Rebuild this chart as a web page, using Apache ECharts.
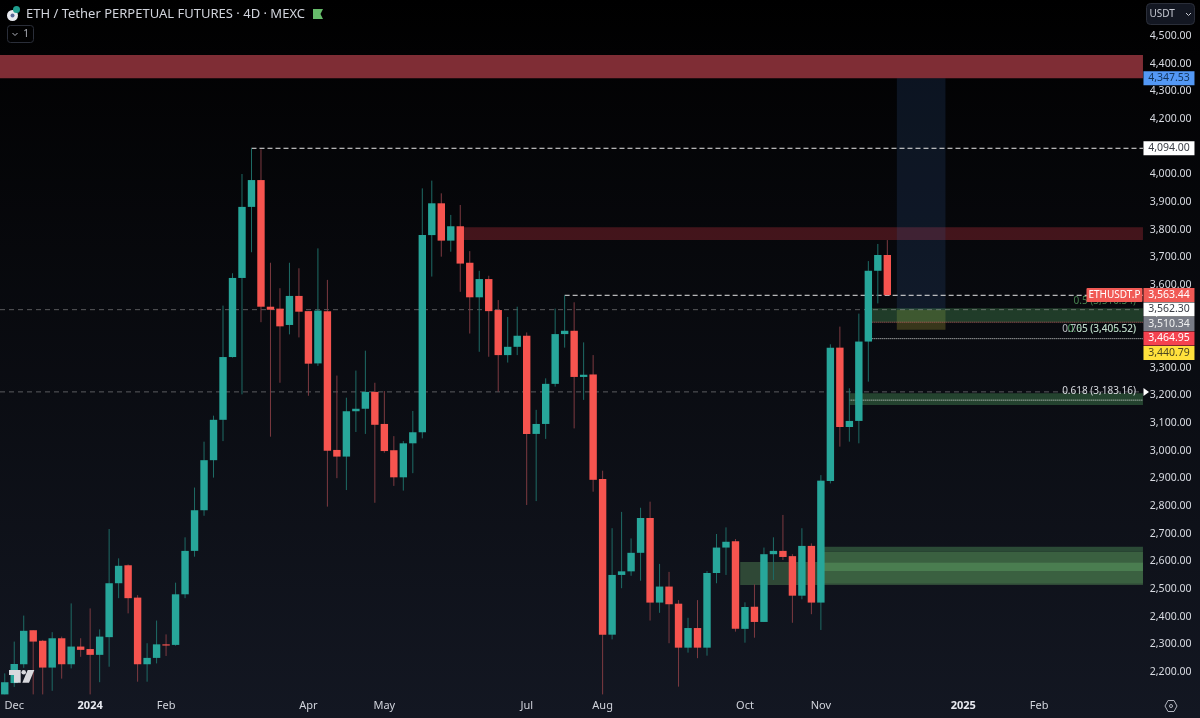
<!DOCTYPE html>
<html>
<head>
<meta charset="utf-8">
<title>ETH / Tether PERPETUAL FUTURES</title>
<style>
    html, body { margin: 0; padding: 0; background: #000; }
    #chart { width: 1200px; height: 718px; }
</style>
<script src="https://cdn.jsdelivr.net/npm/echarts@6/dist/echarts.min.js"></script>
</head>
<body>
<div id="chart"></div>
<script>
/**
 ******************************** data ********************************
 */
var opens = [
    2119,2160,2228,2351,2313,2216,2322,2228,2292,2283,
    2262,2326,2521,2586,2469,2228,2251,2300,2298,2481,
    2638,2785,2966,3112,3339,3625,3882,3979,3521,3514,
    3455,3560,3505,3316,3505,3003,2979,3143,3152,3213,
    3097,3002,2904,3027,3067,3780,3895,3760,3812,3680,
    3555,3621,3509,3346,3376,3416,3061,3097,3242,3422,
    3434,3267,3276,2898,2335,2551,2564,2631,2757,2451,
    2509,2447,2288,2359,2288,2558,2650,2673,2356,2436,
    2381,2626,2638,2619,2476,2656,2451,2891,3373,3086,
    3108,3395,3651,3708
];
var closes = [
    2163,2229,2349,2310,2216,2322,2228,2292,2280,2262,
    2328,2521,2584,2467,2228,2251,2300,2298,2481,2638,
    2785,2966,3112,3339,3625,3882,3979,3521,3510,3450,
    3560,3503,3315,3507,3000,2979,3143,3152,3213,3094,
    2999,2904,3027,3067,3780,3895,3760,3812,3677,3555,
    3621,3505,3346,3376,3416,3061,3097,3242,3422,3434,
    3267,3275,2895,2335,2551,2564,2631,2757,2451,2509,
    2445,2288,2359,2288,2558,2650,2671,2356,2435,2381,
    2626,2638,2616,2476,2656,2451,2892,3373,3086,3108,
    3395,3651,3708,3563
];
var lows = [
    2119,2146,2215,2119,2119,2132,2176,2213,2255,2119,
    2163,2219,2467,2412,2165,2165,2231,2258,2295,2467,
    2617,2765,2903,3035,3337,3204,3718,3465,3051,3246,
    3421,3410,3199,3307,2798,2901,2858,3068,3061,2812,
    2993,2873,2856,2919,3045,3630,3702,3720,3575,3424,
    3358,3340,3214,3319,3346,2804,2818,3043,3232,3373,
    3081,3184,2852,2119,2318,2503,2548,2530,2386,2414,
    2304,2147,2270,2250,2259,2521,2551,2346,2306,2324,
    2381,2533,2605,2378,2463,2409,2352,2882,3015,3033,
    3027,3250,3533,3563
];
var highs = [
    2195,2310,2404,2351,2316,2344,2328,2448,2322,2430,
    2354,2717,2611,2589,2478,2304,2386,2336,2523,2687,
    2867,3033,3127,3525,3642,4001,4094,4090,3680,3588,
    3680,3660,3505,3732,3618,3272,3192,3290,3362,3246,
    3216,3053,3035,3144,3949,3977,3931,3853,3889,3722,
    3651,3633,3545,3484,3521,3428,3148,3262,3514,3562,
    3537,3392,3346,2928,2720,2779,2683,2794,2816,2591,
    2562,2460,2396,2460,2565,2699,2723,2681,2452,2517,
    2650,2687,2768,2626,2720,2665,2912,3385,3449,3226,
    3496,3686,3748,3762
];

// time axis: bar slots and the few slots that carry a label
var barSlots = 120;
var tickSlots = [1, 9, 17, 32, 40, 55, 63, 78, 86, 101, 109];
var tickTexts = ['Dec', '2024', 'Feb', 'Apr', 'May', 'Jul', 'Aug', 'Oct', 'Nov', '2025', 'Feb'];

// price zones, drawn back to front
var zoneTops    = [4431, 3808, 4347.53, 3510.34, 3515, 3208, 2598, 2653, 2635, 2596, 2565];
var zoneBottoms = [4347.53, 3762, 3510.34, 3438, 3465, 3166, 2515, 2635, 2596, 2565, 2520];
var zoneFroms   = [-0.5, 48, 94, 94, 91, 89, 77.5, 86, 86, 86, 86];

// price levels
var levelPrices = [4094, 3562.30, 3510.34, 3213, 3464.95, 3405.52, 3183.16];
var levelFroms  = [26, 59, -0.5, -0.5, 91, 91, 89];

// fib labels
var fibPrices = [3510.34, 3405.52, 3405.52, 3183.16];
var fibTexts  = ['0.5 (3,510.34)', '0.65 (3,406.52)', '0.705 (3,405.52)', '0.618 (3,183.16)'];

// price badges on the axis
var badgePrices = [4347.53, 4094.00, 3563.44, 3562.30, 3510.34, 3464.95, 3440.79];

/**
 ******************************** styles ********************************
 */
var UP = '#27a69a', DOWN = '#f6544f';
var UP_WICK = '#1e6c66', DOWN_WICK = '#7d3a40';
var AXIS_END = 119.94;      // the right edge of the plot, in bar slots

var zoneFills = [
    '#7f2d35', 'rgba(190,50,60,0.33)', 'rgba(50,90,150,0.2)', 'rgba(150,140,50,0.34)',
    'rgba(76,150,90,0.36)', 'rgba(76,150,90,0.40)', '#2f4836',
    '#2b4a36', '#3a6040', '#4a7d50', '#3a6040'
];
var levelStyles = [
    { stroke: '#e8e8e8', lineDash: [5, 3] },
    { stroke: '#e8e8e8', lineDash: [5, 3] },
    { stroke: 'rgba(170,170,170,0.5)', lineDash: [5, 4] },
    { stroke: 'rgba(170,170,170,0.5)', lineDash: [5, 4] },
    { stroke: '#c0605f', lineDash: [1, 1] },
    { stroke: '#d8dcd8', lineDash: [1, 1] },
    { stroke: '#d8dcd8', lineDash: [1, 1] }
];
var fibColors = ['rgba(90,170,100,0.75)', 'rgba(90,190,110,0.8)', 'rgba(225,228,232,0.8)', '#d8dbe0'];
var badgeFills = ['#5398f5', '#ffffff', '#f15a55', '#ffffff', '#787b86', '#f5424f', '#ffe13c'];
var badgeInks  = ['#12345a', '#3a3d45', '#ffffff', '#3a3d45', '#f0f0f0', '#ffffff', '#4a4420'];

var FONT = '"Noto Sans", Roboto, sans-serif';

/**
 ******************************** helpers ********************************
 */
/**
 * x pixel of a bar slot, fractions allowed
 */
function xAt(slot, params, api) {
    return params.coordSys.x + (slot + 0.5) * api.size([1, 0])[0];
}

function yAt(price, api) {
    return api.coord([0, price])[1];
}

function money(v) {
    return Number(v).toLocaleString('en-US', { minimumFractionDigits: 2, maximumFractionDigits: 2 });
}

// bar = wick + body, the wick is dimmer than the body
function renderCandle(params, api) {
    var slot = api.value(0), open = api.value(1), close = api.value(2), low = api.value(3), high = api.value(4);
    var x = xAt(slot, params, api);
    var w = api.size([1, 0])[0] * 0.78;
    var top = yAt(Math.max(open, close), api);
    var bottom = yAt(Math.min(open, close), api);
    var up = close >= open;
    return {
        type: 'group',
        children: [{
            type: 'line',
            shape: { x1: x, y1: yAt(high, api), x2: x, y2: yAt(low, api) },
            style: { stroke: up ? UP_WICK : DOWN_WICK, lineWidth: 1 }
        }, {
            type: 'rect',
            shape: { x: x - w / 2, y: top, width: w, height: Math.max(bottom - top, 1.2) },
            style: { fill: up ? UP : DOWN }
        }]
    };
}

function renderZone(params, api) {
    var i = params.dataIndex;
    var x1 = xAt(zoneFroms[i], params, api);
    // the trade box is the only zone that stops short of the axis
    var x2 = xAt(i == 2 || i == 3 ? 99.13 : AXIS_END, params, api);
    var y1 = yAt(zoneTops[i], api);
    var y2 = yAt(zoneBottoms[i], api);
    return {
        type: 'rect',
        shape: { x: x1, y: y1, width: x2 - x1, height: y2 - y1 },
        style: { fill: zoneFills[i] }
    };
}

function renderLevel(params, api) {
    var i = params.dataIndex;
    var y = yAt(levelPrices[i], api);
    return {
        type: 'line',
        shape: { x1: xAt(levelFroms[i], params, api), y1: y, x2: xAt(AXIS_END, params, api), y2: y },
        style: Object.assign({ lineWidth: 1 }, levelStyles[i])
    };
}

function renderFib(params, api) {
    var i = params.dataIndex;
    return {
        type: 'text',
        style: {
            x: xAt(AXIS_END, params, api) - 7,
            y: yAt(fibPrices[i], api) - 9,
            text: fibTexts[i],
            fill: fibColors[i],
            font: '10px ' + FONT,
            align: 'right',
            verticalAlign: 'middle'
        }
    };
}

// badges push each other down, the way the price scale does it
function badgeY(index, api) {
    var y = -100;
    for (var i = 0; i <= index; i++) {
        y = Math.max(yAt(badgePrices[i], api), y + 14.5);
    }
    return y;
}

function renderBadge(params, api) {
    var i = params.dataIndex;
    var y = badgeY(i, api);
    var x = xAt(AXIS_END, params, api) + 0.5;
    var children = [{
        type: 'rect',
        shape: { x: x, y: y - 7, width: 51, height: 14 },
        style: { fill: badgeFills[i] }
    }, {
        type: 'text',
        style: {
            x: x + 25.5, y: y, text: money(badgePrices[i]), fill: badgeInks[i],
            font: '10.5px ' + FONT, align: 'center', verticalAlign: 'middle'
        }
    }];
    if (i == 2) {   // the symbol tag sits beside the last price
        children.push({
            type: 'rect',
            shape: { x: x - 57, y: y - 7, width: 56, height: 14, r: 1 },
            style: { fill: '#f15a55' }
        }, {
            type: 'text',
            style: {
                x: x - 29, y: y, text: 'ETHUSDT.P', fill: '#ffffff',
                font: '10px ' + FONT, align: 'center', verticalAlign: 'middle'
            }
        });
    }
    return { type: 'group', children: children };
}

function customSeries(renderItem, data, z) {
    return {
        type: 'custom',
        renderItem: renderItem,
        data: data,
        encode: { x: 0, y: 1 },
        clip: false,
        silent: true,
        animation: false,
        z: z
    };
}

/**
 ******************************** chart ********************************
 */
var categories = [];
for (var c = 0; c < barSlots; c++) {
    var t = tickSlots.indexOf(c);
    categories.push(t >= 0 ? tickTexts[t] : '');
}

var header = [
    // coin icon
    { type: 'circle', shape: { cx: 12.5, cy: 15.5, r: 5.5 }, style: { fill: '#e8eaf0' } },
    { type: 'circle', shape: { cx: 12.5, cy: 15.5, r: 2 }, style: { fill: '#5b6b9a' } },
    { type: 'circle', shape: { cx: 16.5, cy: 9.5, r: 3.5 }, style: { fill: '#1f9e8e' } },
    { type: 'text', style: { x: 26, y: 14.5, text: 'ETH / Tether PERPETUAL FUTURES · 4D · MEXC', fill: '#d1d4dc', font: '13px ' + FONT, verticalAlign: 'middle' } },
    // flag
    { type: 'polygon', shape: { points: [[313, 9], [323, 9], [320.5, 14], [323, 19], [313, 19]] }, style: { fill: '#66bb6a' } },
    // collapse button
    { type: 'rect', shape: { x: 7.5, y: 25.5, width: 26, height: 17, r: 3 }, style: { fill: 'none', stroke: '#2a2e39' } },
    { type: 'polyline', shape: { points: [[12.5, 33], [15, 35.5], [17.5, 33]] }, style: { fill: 'none', stroke: '#b2b5be', lineWidth: 1 } },
    { type: 'text', style: { x: 26, y: 34.5, text: '1', fill: '#b2b5be', font: '10px ' + FONT, align: 'center', verticalAlign: 'middle' } },
    // currency button
    { type: 'rect', shape: { x: 1146.5, y: 3.5, width: 48, height: 21, r: 4 }, style: { fill: '#131722', stroke: '#2a2e39' } },
    { type: 'text', style: { x: 1149.5, y: 14, text: 'USDT', fill: '#c8cbd4', font: '10px ' + FONT, verticalAlign: 'middle' } },
    { type: 'polyline', shape: { points: [[1186, 13], [1188.5, 15.5], [1191, 13]] }, style: { fill: 'none', stroke: '#c8cbd4', lineWidth: 1 } },
    // alert marker on the axis
    { type: 'polygon', shape: { points: [[1143.5, 388], [1149, 392], [1143.5, 396]] }, style: { fill: '#ffffff' } },
    // logo
    { type: 'polygon', shape: { points: [[9, 670], [20.7, 670], [20.7, 682.7], [14, 682.7], [14, 675], [9, 675]] }, style: { fill: '#d8d9dd' } },
    { type: 'circle', shape: { cx: 23.7, cy: 672.3, r: 2.3 }, style: { fill: '#d8d9dd' } },
    { type: 'polygon', shape: { points: [[27.7, 670], [34.3, 670], [29, 682.7], [22.3, 682.7]] }, style: { fill: '#d8d9dd' } },
    // settings
    { type: 'polygon', shape: { points: [[1165, 706], [1168, 700.5], [1174, 700.5], [1177, 706], [1174, 711.5], [1168, 711.5]] }, style: { fill: 'none', stroke: '#b2b5be', lineWidth: 1 } },
    { type: 'circle', shape: { cx: 1171, cy: 706, r: 1.5 }, style: { fill: 'none', stroke: '#b2b5be', lineWidth: 1 } }
];
header.forEach(function (el) { el.z = 200; el.silent = true; });

var chart = echarts.init(document.getElementById('chart'));

chart.setOption({
    animation: false,
    backgroundColor: new echarts.graphic.LinearGradient(0, 0, 0, 1, [
        { offset: 0, color: '#000000' },
        { offset: 0.08, color: '#020203' },
        { offset: 1, color: '#131722' }
    ]),
    grid: { left: 0, top: 8.35, width: 1138.8, height: 691.3, containLabel: false },
    xAxis: {
        type: 'category',
        data: categories,
        boundaryGap: true,
        axisLine: { show: false },
        axisTick: { show: false },
        splitLine: { show: false },
        axisLabel: {
            interval: 0,
            margin: 1,
            fontFamily: FONT,
            fontSize: 11,
            color: '#d1d4dc',
            verticalAlign: 'top',
            formatter: function (v) {
                return /^\d+$/.test(v) ? '{year|' + v + '}' : v;
            },
            rich: { year: { fontFamily: FONT, fontSize: 11, fontWeight: 'bold', color: '#e8eaf0' } }
        }
    },
    yAxis: {
        type: 'value',
        position: 'right',
        min: 2100,
        max: 4600,
        interval: 100,
        scale: true,
        axisLine: { show: false },
        axisTick: { show: false },
        splitLine: { show: false },
        axisLabel: {
            margin: 11,
            showMinLabel: false,
            showMaxLabel: false,
            fontFamily: FONT,
            fontSize: 10.5,
            color: '#d8dbe2',
            formatter: money
        }
    },
    graphic: { elements: header },
    series: [
        customSeries(renderZone, zoneTops.map(function (p, i) { return [Math.max(zoneFroms[i], 0), p]; }), 1),
        customSeries(renderLevel, levelPrices.map(function (p, i) { return [Math.max(levelFroms[i], 0), p]; }), 2),
        customSeries(renderCandle, opens.map(function (o, i) { return [i, o, closes[i], lows[i], highs[i]]; }), 3),
        customSeries(renderFib, fibPrices.map(function (p, i) { return [100, p]; }), 4),
        customSeries(renderBadge, badgePrices.map(function (p, i) { return [119, p]; }), 5)
    ]
});
</script>
</body>
</html>
